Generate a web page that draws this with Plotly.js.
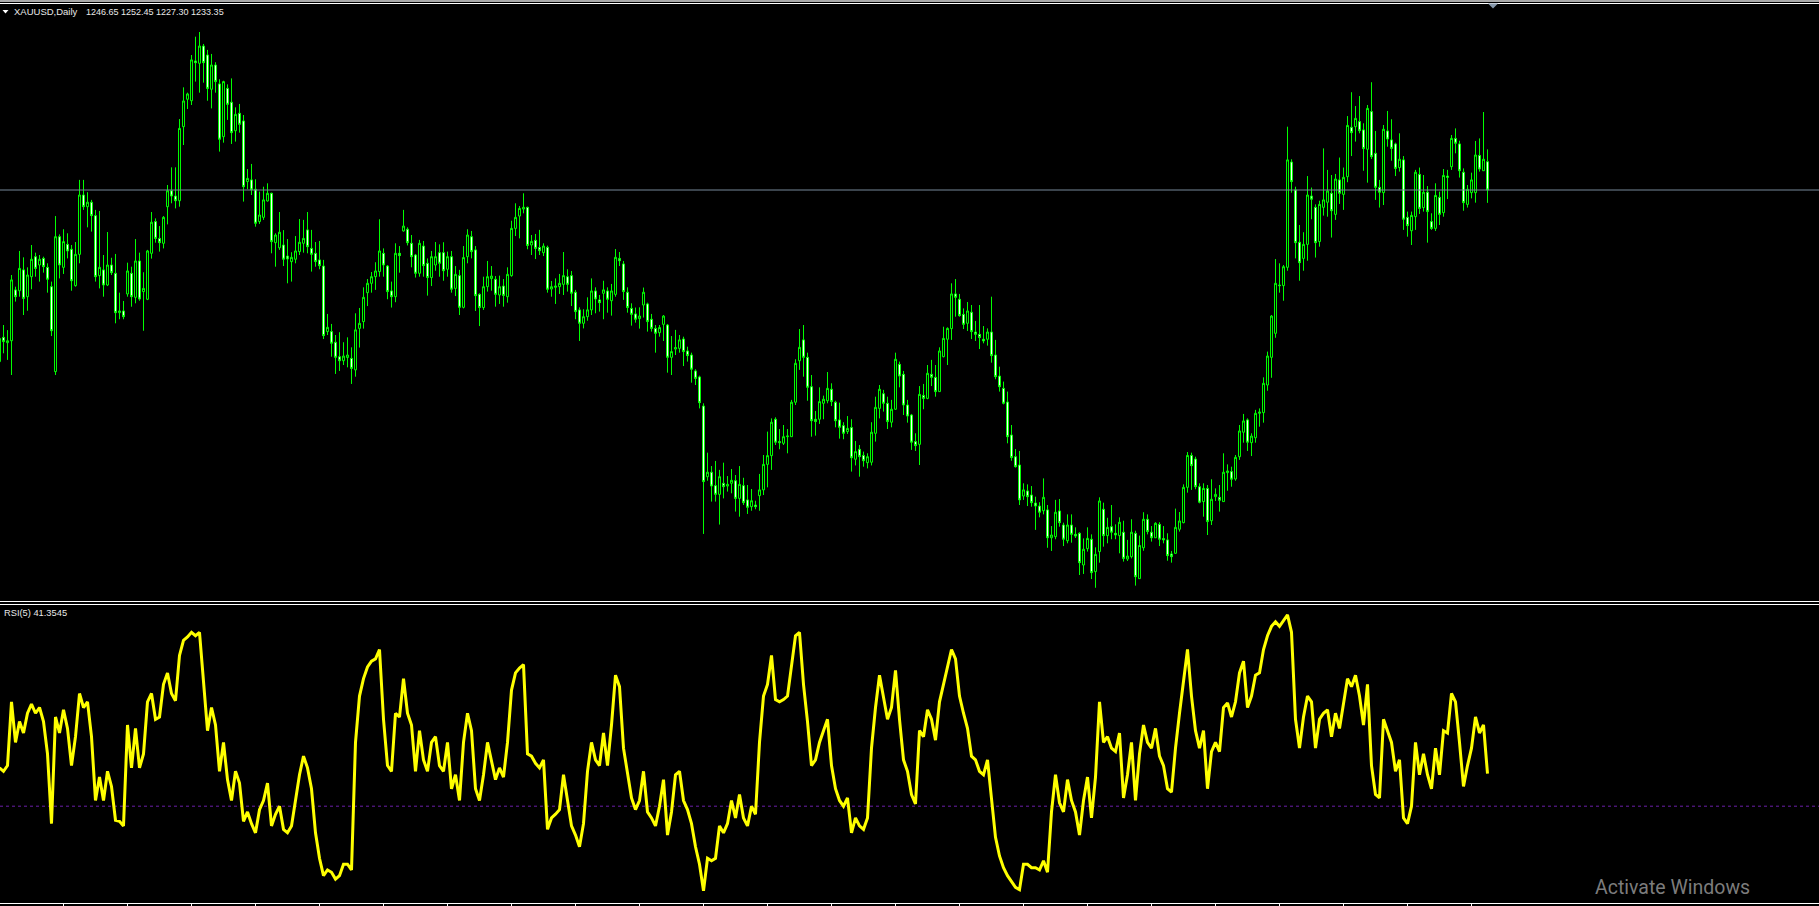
<!DOCTYPE html>
<html><head><meta charset="utf-8">
<script src="https://cdn.plot.ly/plotly-3.0.1.min.js"></script>
<style>html,body{margin:0;padding:0;background:#000;overflow:hidden}#chart{width:1819px;height:906px}</style>
</head><body><div id="chart"></div>
<script>
const symbol = "XAUUSD,Daily";
const openP = [
1152.7,1164.1,1161.6,1162.5,1186.4,1186.0,1195.8,1183.2,1192.6,1202.0,1198.1,1201.2,1197.0,1187.9,1148.0,1211.4,1197.0,1207.8,1205.5,1188.4,
1203.1,1231.0,1225.5,1227.6,1221.3,1193.1,1195.8,1188.7,1198.1,1194.2,1175.7,1176.5,1184.5,1194.2,1182.9,1200.0,1185.6,1182.0,1203.6,1218.5,
1210.6,1208.3,1225.5,1233.0,1230.5,1228.3,1263.1,1276.0,1275.3,1294.0,1292.9,1301.0,1296.8,1280.7,1292.1,1283.2,1258.4,1281.1,1274.6,1261.2,
1269.4,1265.8,1237.3,1238.1,1233.7,1218.5,1220.5,1228.2,1231.8,1208.6,1206.2,1207.5,1202.3,1199.7,1200.8,1204.4,
1208.3,1214.6,1205.9,1203.6,1200.5,1197.6,1166.8,1166.8,1161.8,1155.0,1153.1,1154.6,1154.2,1148.8,1168.3,1171.5,1185.1,1189.5,1192.6,1195.0,
1203.6,1197.6,1185.9,1183.2,1203.6,1214.1,1214.9,1208.3,1202.8,1194.2,1207.0,1198.9,1192.2,1198.1,1203.9,1203.9,1196.1,1202.0,1187.1,1193.1,
1178.2,1202.0,1211.4,1205.2,1184.3,1178.1,1187.9,1191.7,1191.4,1184.0,1188.2,1183.2,1193.1,1215.3,1221.1,1224.4,1225.2,1207.5,1209.7,1206.3,
1203.9,1206.4,1186.8,1187.6,1187.9,1189.0,1192.6,1193.1,1185.3,1177.0,1170.7,1173.8,1177.0,1185.9,1181.7,
1184.8,1185.9,1181.3,1184.3,1201.2,1198.6,1185.3,1177.7,1175.1,1172.9,1179.3,1179.8,1172.6,1168.3,1166.3,1170.2,1169.9,1154.7,1158.6,1158.9,
1163.3,1157.7,1155.8,1148.3,1145.5,1131.8,1098.6,1100.7,1094.4,1090.3,1095.5,1094.2,1095.5,1096.7,1088.4,1094.4,1087.7,1084.5,1085.3,1089.7,
1092.4,1104.4,1108.5,1125.6,1115.1,1114.3,1117.4,1117.4,1133.6,1153.1,1162.9,1154.7,1140.9,1125.6,1125.6,1133.1,1134.3,1139.7,1133.6,1125.3,
1122.6,1119.8,1121.7,1106.8,1111.5,1108.6,1105.2,1105.4,1119.0,1130.7,1137.6,1133.1,1124.2,1130.3,1151.4,
1146.7,1132.3,1127.6,1115.1,1113.8,1136.8,1135.4,1146.7,1145.3,1138.6,1155.0,1163.2,1168.2,1184.5,1182.0,1174.9,1170.7,1175.9,1166.6,1165.5,
1163.2,1163.2,1166.6,1155.8,1145.9,1140.1,1133.7,1118.2,1108.0,1104.1,1089.5,1091.9,1090.0,1086.2,1084.8,1082.6,1083.0,1069.9,1070.4,1082.5,
1075.9,1068.5,1075.9,1071.5,1072.0,1057.1,1064.8,1069.2,1054.0,1063.4,1083.3,1070.9,1075.1,1072.0,1070.9,1072.5,1059.9,1061.0,1072.0,1050.7,
1065.2,1078.6,1072.5,1069.9,1076.2,1069.5,1068.9,1062.3,1062.6,1073.9,1077.0,1093.6,1108.6,1106.9,1093.9,
1086.9,1093.1,1077.9,1089.2,1088.9,1086.9,1100.5,1101.0,1097.5,1108.0,1119.5,1125.3,1114.6,1116.9,1128.4,1128.7,1141.7,1154.7,1166.0,1188.7,
1188.4,1197.0,1246.5,1233.4,1208.8,1201.2,1207.8,1230.5,1225.2,1209.1,1225.2,1227.6,1231.8,1221.9,1238.1,1231.3,1239.6,1262.8,1263.1,1265.5,
1261.6,1252.5,1270.2,1250.6,1234.6,1232.1,1261.1,1256.9,1255.0,1243.9,1247.5,1220.5,1214.2,1220.8,1240.7,1225.1,1232.3,1218.5,1215.3,1229.9,
1222.7,1239.9,1244.3,1257.6,1255.0,1241.7,1226.6,1232.1,1232.1,1249.6,1242.4,1246.65];
const highP = [
1165.2,1169.9,1167.5,1193.4,1187.9,1204.7,1201.7,1197.0,1207.5,1203.9,1202.8,1202.0,1198.9,1190.3,1221.1,1212.5,1214.9,1213.0,1207.5,1208.9,
1238.1,1238.1,1232.3,1228.7,1224.0,1223.5,1202.8,1213.6,1201.5,1203.3,1185.1,1181.2,1199.2,1197.3,1210.3,1203.9,1194.7,1205.2,1223.0,1220.0,
1216.4,1221.1,1235.7,1244.0,1244.0,1266.7,1281.6,1279.1,1296.8,1305.4,1307.6,1302.0,1299.2,1297.3,1293.4,1285.4,1284.7,1283.0,1285.8,1272.2,
1273.8,1268.6,1243.2,1245.6,1238.4,1232.6,1234.9,1236.5,1232.1,1213.0,1223.0,1214.5,1210.3,1204.1,1211.7,1219.7,
1219.3,1223.0,1214.6,1208.9,1209.4,1200.5,1175.1,1170.4,1165.2,1166.5,1161.8,1164.1,1159.4,1175.4,1177.9,1187.6,1191.5,1194.8,1199.4,1219.6,
1205.9,1198.1,1190.3,1208.3,1207.0,1224.0,1215.8,1212.2,1203.3,1209.9,1209.4,1201.2,1204.7,1208.9,1207.8,1208.8,1204.4,1204.7,1197.6,1195.8,
1207.0,1214.9,1214.1,1207.0,1184.8,1192.6,1200.0,1197.6,1192.9,1193.1,1191.5,1197.0,1218.9,1227.1,1225.8,1231.8,1225.5,1212.2,1212.7,1214.6,
1208.3,1207.2,1190.6,1191.8,1193.9,1204.2,1196.1,1195.3,1186.4,1178.2,1177.3,1182.9,1191.8,1187.6,1184.0,
1190.7,1187.6,1189.2,1205.6,1204.2,1200.0,1187.6,1180.1,1178.1,1178.2,1187.5,1180.4,1175.1,1169.9,1169.9,1174.6,1170.4,1164.7,1167.6,1165.2,
1164.4,1159.7,1156.9,1149.1,1146.1,1133.1,1109.9,1103.6,1106.0,1101.8,1105.2,1098.9,1102.2,1099.4,1103.6,1098.1,1094.7,1092.8,1087.3,1099.9,
1108.8,1119.8,1126.0,1126.5,1121.0,1122.9,1121.0,1134.7,1153.8,1168.0,1169.9,1156.9,1146.4,1129.5,1140.6,1136.7,1147.8,1142.5,1134.3,1133.4,
1124.2,1127.1,1125.6,1115.4,1113.5,1110.4,1109.6,1124.2,1136.2,1141.7,1139.4,1136.2,1134.7,1156.9,1152.7,
1148.3,1134.7,1128.1,1119.0,1141.2,1142.2,1151.1,1153.5,1151.1,1159.4,1169.1,1168.8,1189.5,1191.5,1184.5,1177.7,1180.7,1179.3,1171.8,1179.3,
1169.4,1168.3,1183.2,1162.9,1150.3,1143.3,1138.6,1122.9,1111.6,1110.7,1095.5,1095.0,1094.2,1089.2,1086.6,1097.8,1085.3,1075.4,1087.7,1088.1,
1077.0,1080.9,1080.9,1074.8,1072.5,1069.6,1074.8,1071.5,1065.4,1088.9,1086.4,1079.3,1085.3,1076.2,1079.5,1077.9,1068.9,1078.6,1073.2,1070.9,
1081.9,1080.9,1075.4,1077.2,1077.2,1075.4,1072.0,1063.7,1083.6,1082.0,1095.0,1110.2,1109.9,1108.0,1095.5,
1095.5,1094.7,1097.4,1093.1,1094.7,1109.6,1104.4,1103.3,1108.8,1122.9,1128.1,1126.0,1119.0,1130.0,1130.7,1145.3,1157.4,1174.6,1200.9,1198.9,
1198.1,1263.1,1247.8,1234.9,1216.9,1213.5,1239.9,1234.5,1226.6,1228.3,1252.9,1242.8,1240.4,1240.9,1248.6,1243.9,1268.1,1279.3,1272.8,1277.5,
1264.7,1273.3,1284.0,1261.1,1238.1,1263.9,1270.5,1266.6,1255.6,1260.0,1249.3,1223.2,1223.2,1242.8,1243.9,1240.4,1235.2,1222.4,1236.5,1232.6,
1243.2,1242.8,1259.2,1262.3,1256.5,1243.5,1235.7,1241.5,1256.4,1257.6,1270.0,1252.45];
const lowP = [
1151.9,1156.6,1153.5,1146.4,1180.9,1183.2,1174.6,1176.6,1186.7,1192.6,1190.3,1194.5,1185.1,1164.7,1146.4,1191.8,1193.9,1201.2,1186.0,1187.9,
1198.9,1224.0,1215.8,1213.8,1190.3,1187.1,1183.2,1188.2,1193.4,1170.7,1172.6,1172.6,1183.2,1178.5,1180.1,1181.3,1167.2,1181.6,1201.1,1208.6,
1204.4,1205.9,1217.2,1227.1,1224.7,1225.5,1254.5,1271.4,1273.3,1284.3,1279.1,1283.8,1275.3,1271.7,1279.1,1251.4,1255.6,1266.3,1255.0,1256.1,
1260.3,1227.9,1233.7,1231.0,1216.1,1217.4,1219.3,1227.9,1203.6,1197.3,1205.2,1197.6,1189.5,1190.3,1198.9,1202.8,
1203.9,1203.6,1195.0,1197.3,1196.1,1163.3,1165.2,1155.0,1146.9,1148.3,1151.1,1150.0,1142.2,1145.6,1159.3,1168.2,1178.8,1185.1,1186.4,1192.6,
1192.6,1182.0,1178.1,1180.6,1194.5,1213.8,1207.3,1197.0,1192.2,1192.6,1192.6,1183.7,1188.2,1195.4,1192.6,1190.7,1192.6,1185.1,1183.5,1174.6,
1177.7,1198.9,1201.2,1176.5,1169.4,1177.0,1185.6,1186.0,1178.5,1179.8,1178.5,1180.4,1192.6,1211.7,1210.6,1222.4,1205.5,1202.8,1200.9,1202.8,
1202.3,1185.1,1183.2,1179.8,1184.5,1184.0,1185.6,1178.8,1172.6,1162.4,1168.3,1171.9,1174.6,1175.4,1176.2,
1172.6,1175.7,1174.3,1183.2,1197.6,1181.7,1175.7,1169.6,1171.0,1168.2,1173.4,1166.8,1166.8,1156.9,1164.4,1162.4,1147.5,1146.4,1155.8,1156.9,
1150.6,1152.7,1142.8,1141.7,1130.7,1071.7,1096.7,1086.9,1086.9,1076.1,1088.4,1091.6,1090.8,1082.2,1079.8,1085.3,1081.1,1082.6,1083.3,1082.6,
1090.0,1093.6,1101.8,1113.5,1111.5,1113.5,1109.6,1117.4,1132.3,1148.8,1145.6,1134.3,1117.4,1117.9,1123.4,1125.6,1133.1,1131.8,1121.8,1116.5,
1116.2,1118.7,1101.0,1103.9,1098.6,1103.3,1102.5,1103.9,1115.1,1126.0,1129.2,1121.0,1121.8,1130.0,1140.6,
1127.6,1124.0,1111.2,1110.7,1104.1,1130.3,1135.0,1141.2,1136.2,1138.6,1154.7,1151.1,1162.9,1173.8,1173.8,1168.0,1167.1,1163.3,1162.4,1158.6,
1161.3,1160.2,1152.2,1144.4,1138.6,1132.6,1114.3,1106.1,1102.9,1085.3,1087.7,1084.8,1084.5,1073.6,1079.5,1080.9,1065.2,1063.7,1069.2,1075.1,
1066.0,1067.3,1067.6,1069.8,1052.4,1052.9,1063.4,1050.5,1046.4,1058.2,1065.7,1067.3,1069.2,1069.2,1062.6,1058.7,1059.0,1060.2,1047.4,1050.7,
1063.8,1071.5,1068.1,1069.9,1066.0,1067.3,1059.1,1058.2,1062.3,1072.8,1076.7,1091.1,1092.4,1092.7,1086.1,
1079.8,1071.2,1075.9,1087.2,1082.2,1086.9,1092.0,1093.9,1096.7,1106.5,1114.6,1110.7,1108.3,1114.6,1122.1,1124.0,1139.0,1145.1,1163.9,1185.1,
1181.3,1195.4,1232.1,1201.2,1190.7,1195.4,1200.1,1219.6,1201.6,1206.7,1221.3,1220.8,1211.0,1219.3,1226.8,1224.0,1237.0,1249.3,1256.1,1260.0,
1242.4,1236.8,1247.9,1228.7,1225.1,1226.3,1253.7,1247.1,1239.9,1242.0,1214.6,1211.4,1207.5,1214.6,1222.1,1223.2,1208.6,1214.6,1214.1,1216.9,
1220.8,1229.1,1242.8,1250.6,1239.2,1223.6,1225.1,1229.4,1227.4,1242.0,1242.4,1227.30];
const closeP = [
1163.6,1162.1,1162.5,1191.1,1183.2,1196.5,1182.4,1193.4,1200.8,1196.5,1200.8,1197.3,1191.4,1167.2,1211.4,1198.1,1209.1,1204.7,1190.7,1203.1,
1231.0,1225.5,1227.6,1221.3,1192.6,1197.0,1188.7,1198.1,1194.5,1175.7,1176.5,1173.8,1195.3,1183.2,1200.0,1182.1,1187.1,1204.7,1218.2,1210.6,
1208.6,1220.5,1233.0,1230.5,1228.3,1262.3,1275.2,1278.5,1294.5,1293.2,1301.0,1293.2,1281.1,1292.1,1284.3,1257.2,1284.3,1273.6,1260.3,1268.9,
1264.2,1234.9,1238.8,1233.4,1217.7,1221.6,1228.7,1231.8,1209.1,1212.2,1213.5,1200.8,1200.9,1201.7,1204.7,1208.8,
1210.6,1206.7,1203.1,1199.7,1197.8,1164.9,1168.8,1161.3,1154.7,1153.1,1155.3,1155.8,1149.5,1167.6,1170.7,1182.9,1189.5,1192.6,1195.3,1204.7,
1198.1,1185.6,1183.2,1203.6,1202.5,1216.4,1208.6,1202.0,1194.2,1208.3,1197.8,1192.2,1202.0,1202.0,1198.9,1195.4,1202.0,1186.7,1193.7,1178.2,
1201.6,1212.2,1204.4,1183.7,1178.1,1187.9,1192.6,1192.9,1184.3,1187.9,1183.8,1193.7,1215.3,1220.5,1224.7,1225.2,1207.3,1209.2,1205.9,1204.8,
1207.0,1186.7,1187.9,1188.2,1189.5,1193.1,1189.0,1184.8,1176.2,1170.7,1173.8,1177.0,1185.9,1182.1,1180.4,
1186.4,1182.0,1185.9,1201.7,1200.1,1185.6,1178.1,1174.9,1172.6,1174.1,1185.3,1171.5,1168.3,1166.0,1168.7,1174.1,1154.7,1157.4,1159.3,1162.9,
1157.4,1155.5,1149.1,1144.8,1133.4,1096.3,1100.7,1094.2,1090.3,1098.6,1093.9,1095.0,1096.9,1088.4,1095.0,1086.4,1084.2,1087.3,1084.5,1092.4,
1104.4,1108.5,1124.2,1114.8,1114.6,1117.4,1117.7,1133.6,1151.9,1159.4,1154.7,1140.6,1124.9,1124.5,1133.9,1135.0,1140.1,1133.9,1124.9,1121.8,
1119.0,1121.3,1107.5,1110.4,1108.0,1106.1,1108.0,1119.5,1131.2,1139.7,1133.1,1124.5,1130.3,1153.8,1145.9,
1132.3,1127.1,1114.8,1113.2,1137.3,1135.4,1147.2,1145.3,1138.6,1157.7,1163.6,1168.3,1184.5,1182.9,1174.3,1170.2,1176.5,1166.8,1165.5,1164.0,
1162.4,1166.6,1155.5,1145.6,1140.9,1133.1,1117.4,1107.6,1103.3,1087.7,1092.4,1089.2,1086.4,1084.8,1081.9,1088.9,1069.9,1071.2,1081.9,1077.0,
1069.2,1075.9,1071.5,1070.7,1058.2,1064.5,1069.6,1053.5,1062.1,1087.2,1070.9,1074.8,1072.5,1071.2,1077.2,1060.2,1061.3,1072.5,1051.6,1066.3,
1078.6,1072.8,1069.9,1076.7,1069.2,1068.9,1061.5,1061.0,1074.8,1077.8,1093.6,1108.6,1103.8,1093.9,1086.6,
1093.1,1077.5,1088.0,1090.3,1087.5,1100.7,1101.3,1097.4,1107.7,1120.1,1124.8,1114.8,1117.7,1128.4,1129.0,1142.5,1155.3,1174.1,1189.5,1188.4,
1197.3,1247.5,1237.3,1208.6,1199.2,1207.8,1231.0,1229.0,1208.6,1226.6,1228.7,1232.9,1223.6,1238.5,1231.8,1239.3,1263.7,1260.3,1267.0,1261.2,
1252.8,1271.7,1249.0,1234.6,1232.3,1261.9,1257.3,1252.9,1243.5,1247.8,1219.6,1216.6,1221.4,1241.7,1224.7,1232.3,1223.2,1215.3,1230.8,1221.9,
1240.2,1239.3,1257.6,1255.3,1242.4,1227.4,1233.7,1238.1,1249.8,1243.2,1247.8,1233.35];
const rsiName = "RSI(5)";
const rsi5 = [
43.4,42.2,44.2,66.5,52.3,59.6,55.6,62.5,65.7,62.5,64.5,59.6,48.3,23.9,61.2,55.6,63.7,57.2,44.2,54.3,
69.4,64.5,66.5,54.3,32.0,40.2,32.0,42.2,36.9,25.1,24.7,23.1,58.4,43.4,57.2,43.4,48.3,66.5,69.4,60.4,
61.2,72.6,76.6,69.4,66.9,82.7,88.0,89.2,90.8,89.6,90.8,74.6,56.4,64.5,58.4,42.2,52.3,39.3,32.0,42.2,
38.1,24.7,28.0,23.9,20.7,28.8,32.0,38.1,23.1,27.2,30.0,21.9,20.7,23.1,32.0,41.0,47.5,43.4,36.1,20.7,
11.8,5.7,7.7,6.9,4.5,5.7,9.7,9.7,7.7,52.3,68.5,74.6,78.7,80.7,81.5,84.8,60.4,44.2,42.2,62.5,
61.2,74.6,62.5,58.4,42.2,56.4,46.2,42.2,52.3,54.3,44.2,42.2,52.3,36.1,41.0,32.0,52.3,62.5,56.4,36.1,
32.0,41.0,52.3,46.2,39.3,43.4,40.2,52.3,70.6,76.6,78.3,79.5,48.3,47.5,45.0,43.4,46.2,21.9,25.9,27.2,
28.8,41.0,32.0,23.1,19.9,15.8,23.9,42.2,52.3,46.2,44.2,55.6,44.2,58.4,75.8,71.8,50.3,41.0,32.9,28.8,
32.0,42.2,28.0,25.9,23.1,30.0,39.3,19.9,28.0,41.0,42.2,32.0,28.8,23.9,15.8,9.7,0.4,11.8,10.9,11.8,
23.1,20.7,23.9,32.0,25.9,34.1,25.9,23.1,30.0,27.2,52.3,68.5,72.6,82.7,67.3,66.5,67.3,68.5,78.7,89.6,
90.8,72.6,59.6,44.2,46.2,52.3,56.4,60.4,44.2,36.1,32.0,30.0,32.9,20.7,25.9,23.1,21.9,25.9,50.3,64.5,
75.8,68.5,60.4,64.5,77.5,60.4,46.2,42.2,34.1,30.8,56.4,54.3,63.7,60.4,53.1,66.5,72.6,78.7,84.8,81.5,
68.5,62.5,57.2,47.5,46.2,42.2,41.0,46.2,32.0,19.1,12.6,8.5,5.7,3.6,1.6,0.8,9.7,9.7,8.5,8.5,
7.7,10.9,6.9,28.0,41.0,31.2,28.0,39.3,32.0,28.0,19.9,32.0,40.2,25.9,40.2,66.5,52.3,54.3,50.3,49.1,
55.6,32.9,41.0,52.3,32.0,48.3,58.4,52.3,50.3,57.2,47.5,44.2,36.1,34.9,50.3,62.5,74.6,84.8,68.5,56.4,
50.3,56.4,36.1,49.1,52.3,49.1,64.5,66.1,61.2,66.5,76.6,80.7,64.5,68.5,75.8,76.6,84.8,89.6,92.9,94.5,
92.9,94.9,96.9,90.8,60.4,50.3,61.2,68.5,66.5,50.3,60.4,62.5,63.7,54.3,62.5,57.2,66.5,74.6,71.8,75.8,
68.5,58.4,72.6,44.2,34.1,32.9,60.4,56.4,52.3,42.2,46.2,25.9,23.9,30.0,52.3,41.0,48.3,41.0,36.1,50.3,
41.0,56.4,55.6,69.4,66.5,52.3,36.9,44.2,50.3,61.2,55.6,58.4,41.3545];
const rsiLevel = 30;
const timeTicks = [16,32,48,64,80,96,112,128,144,160,176,192,208,224,240,256,272,288,304,320,336,352,368];

const W = 1819, H = 906;
const px = x => x / W, py = y => 1 - y / H;
const idx = openP.map((_, i) => i);
const last = closeP.length - 1;

const traces = [{
  type: 'candlestick', x: idx, open: openP, high: highP, low: lowP, close: closeP,
  xaxis: 'x', yaxis: 'y', whiskerwidth: 0, hoverinfo: 'skip',
  increasing: {line: {color: '#00ff00', width: 1}, fillcolor: '#000000'},
  decreasing: {line: {color: '#00ff00', width: 1}, fillcolor: '#ffffff'}
}, {
  type: 'scatter', mode: 'lines', x: idx.slice(0, rsi5.length), y: rsi5,
  xaxis: 'x', yaxis: 'y2', line: {color: '#ffff00', width: 3}, hoverinfo: 'skip'
}];

const f2 = v => v.toFixed(2);
const layout = {
  width: W, height: H, margin: {l: 0, r: 0, t: 0, b: 0, pad: 0},
  paper_bgcolor: '#000000', plot_bgcolor: '#000000', showlegend: false,
  xaxis: {range: [0.125, 454.875], anchor: 'y2', showgrid: false, zeroline: false, showticklabels: false,
    ticks: 'outside', ticklen: 3, tickwidth: 1, tickcolor: '#ffffff', tickmode: 'array', tickvals: timeTicks,
    showline: true, linecolor: '#ffffff', linewidth: 1, rangeslider: {visible: false}, fixedrange: true},
  yaxis: {domain: [306 / H, 902 / H], range: [1040.65, 1320.77], showgrid: false, zeroline: false,
    showticklabels: false, ticks: '', fixedrange: true},
  yaxis2: {domain: [3 / H, 301 / H], range: [-3.846, 100.35], showgrid: false, zeroline: false,
    showticklabels: false, ticks: '', fixedrange: true},
  shapes: [
    {type: 'rect', xref: 'paper', yref: 'paper', x0: 0, x1: 1, y0: py(0), y1: py(2), fillcolor: '#a8a8a8', line: {width: 0}},
    {type: 'line', xref: 'paper', yref: 'paper', x0: 0, x1: 1, y0: py(3.5), y1: py(3.5), line: {color: '#ffffff', width: 1}},
    {type: 'line', xref: 'paper', yref: 'paper', x0: 0, x1: 1, y0: py(601.5), y1: py(601.5), line: {color: '#ffffff', width: 1}},
    {type: 'line', xref: 'paper', yref: 'paper', x0: 0, x1: 1, y0: py(604.5), y1: py(604.5), line: {color: '#ffffff', width: 1}},
    {type: 'line', xref: 'paper', yref: 'y', x0: 0, x1: 1, y0: closeP[last], y1: closeP[last], line: {color: '#778899', width: 1}},
    {type: 'line', xref: 'paper', yref: 'y2', x0: 0, x1: 1, y0: rsiLevel, y1: rsiLevel, line: {color: '#6a1fa8', width: 1, dash: 'dot'}, layer: 'below'},
    {type: 'path', xref: 'paper', yref: 'paper', path: `M ${px(2.5)} ${py(10)} L ${px(8.5)} ${py(10)} L ${px(5.5)} ${py(13.5)} Z`, fillcolor: '#ffffff', line: {width: 0}},
    {type: 'path', xref: 'paper', yref: 'paper', path: `M ${px(1488)} ${py(3.5)} L ${px(1498)} ${py(3.5)} L ${px(1493)} ${py(8.5)} Z`, fillcolor: '#8798ab', line: {width: 0}}
  ],
  annotations: [
    {xref: 'paper', yref: 'paper', x: px(13), y: py(11.8), xanchor: 'left', yanchor: 'middle', showarrow: false, borderpad: 0,
      text: symbol, font: {family: 'Liberation Sans, Arial, sans-serif', size: 9.5, color: '#e8e8e8'}},
    {xref: 'paper', yref: 'paper', x: px(84.5), y: py(11.8), xanchor: 'left', yanchor: 'middle', showarrow: false, borderpad: 0,
      text: [openP[last], highP[last], lowP[last], closeP[last]].map(f2).join(' '), font: {family: 'Liberation Sans, Arial, sans-serif', size: 9, color: '#e8e8e8'}},
    {xref: 'paper', yref: 'paper', x: px(3), y: py(613), xanchor: 'left', yanchor: 'middle', showarrow: false, borderpad: 0,
      text: rsiName + ' ' + rsi5[rsi5.length - 1].toFixed(4), font: {family: 'Liberation Sans, Arial, sans-serif', size: 9.3, color: '#e8e8e8'}},
    {xref: 'paper', yref: 'paper', x: px(1594), y: py(887), xanchor: 'left', yanchor: 'middle', showarrow: false, borderpad: 0,
      text: 'Activate Windows', font: {family: 'Roboto, sans-serif', size: 19.5, color: '#7c7c7c'}}
  ]
};
Plotly.newPlot('chart', traces, layout, {staticPlot: true, displayModeBar: false});
</script></body></html>
